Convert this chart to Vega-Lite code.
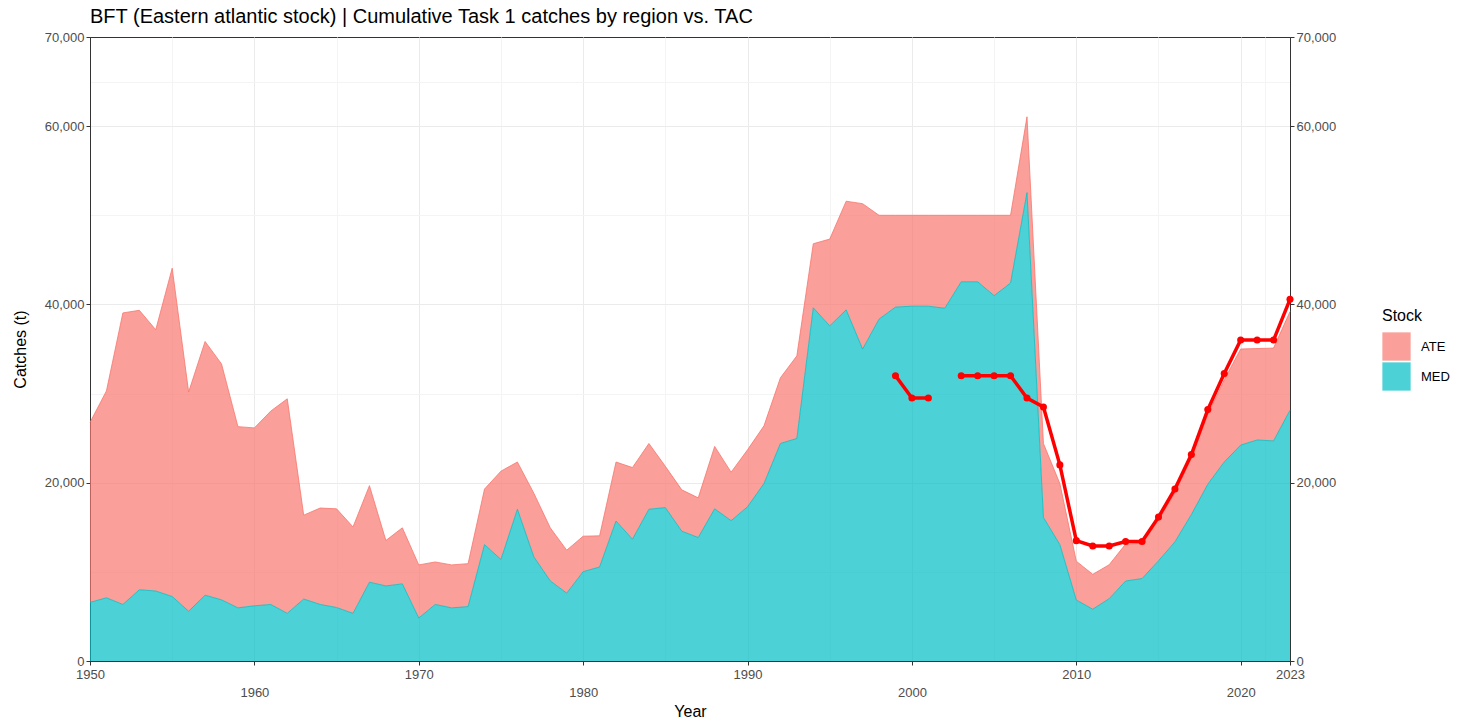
{
  "$schema": "https://vega.github.io/schema/vega-lite/v6.json",
  "width": 1200,
  "height": 624,
  "autosize": {"type": "none"},
  "padding": {"left": 90, "top": 37, "right": 167, "bottom": 64},
  "view": {"stroke": "#333333", "strokeWidth": 1},
  "title": {"text": "BFT (Eastern atlantic stock) | Cumulative Task 1 catches by region vs. TAC", "anchor": "start", "frame": "group", "fontSize": 20, "fontWeight": "normal", "color": "#000000", "font": "Liberation Sans", "offset": 4},
  "datasets": {
    "tac": [
      {"Year": 1999, "TAC": 32000}, {"Year": 2000, "TAC": 29500}, {"Year": 2001, "TAC": 29500}, {"Year": 2002, "TAC": null},
      {"Year": 2003, "TAC": 32000}, {"Year": 2004, "TAC": 32000}, {"Year": 2005, "TAC": 32000}, {"Year": 2006, "TAC": 32000},
      {"Year": 2007, "TAC": 29500}, {"Year": 2008, "TAC": 28500}, {"Year": 2009, "TAC": 22000}, {"Year": 2010, "TAC": 13500},
      {"Year": 2011, "TAC": 12900}, {"Year": 2012, "TAC": 12900}, {"Year": 2013, "TAC": 13400}, {"Year": 2014, "TAC": 13400},
      {"Year": 2015, "TAC": 16142}, {"Year": 2016, "TAC": 19296}, {"Year": 2017, "TAC": 23155}, {"Year": 2018, "TAC": 28200},
      {"Year": 2019, "TAC": 32240}, {"Year": 2020, "TAC": 36000}, {"Year": 2021, "TAC": 36000}, {"Year": 2022, "TAC": 36000},
      {"Year": 2023, "TAC": 40570}
    ],
    "catches": [
      {"Year": 1950, "Stock": "MED", "Catch": 6570}, {"Year": 1950, "Stock": "ATE", "Catch": 20190},
      {"Year": 1951, "Stock": "MED", "Catch": 7090}, {"Year": 1951, "Stock": "ATE", "Catch": 23210},
      {"Year": 1952, "Stock": "MED", "Catch": 6340}, {"Year": 1952, "Stock": "ATE", "Catch": 32710},
      {"Year": 1953, "Stock": "MED", "Catch": 7990}, {"Year": 1953, "Stock": "ATE", "Catch": 31350},
      {"Year": 1954, "Stock": "MED", "Catch": 7850}, {"Year": 1954, "Stock": "ATE", "Catch": 29310},
      {"Year": 1955, "Stock": "MED", "Catch": 7230}, {"Year": 1955, "Stock": "ATE", "Catch": 36840},
      {"Year": 1956, "Stock": "MED", "Catch": 5580}, {"Year": 1956, "Stock": "ATE", "Catch": 24590},
      {"Year": 1957, "Stock": "MED", "Catch": 7380}, {"Year": 1957, "Stock": "ATE", "Catch": 28460},
      {"Year": 1958, "Stock": "MED", "Catch": 6860}, {"Year": 1958, "Stock": "ATE", "Catch": 26470},
      {"Year": 1959, "Stock": "MED", "Catch": 5960}, {"Year": 1959, "Stock": "ATE", "Catch": 20330},
      {"Year": 1960, "Stock": "MED", "Catch": 6190}, {"Year": 1960, "Stock": "ATE", "Catch": 19960},
      {"Year": 1961, "Stock": "MED", "Catch": 6340}, {"Year": 1961, "Stock": "ATE", "Catch": 21700},
      {"Year": 1962, "Stock": "MED", "Catch": 5340}, {"Year": 1962, "Stock": "ATE", "Catch": 24070},
      {"Year": 1963, "Stock": "MED", "Catch": 6950}, {"Year": 1963, "Stock": "ATE", "Catch": 9410},
      {"Year": 1964, "Stock": "MED", "Catch": 6340}, {"Year": 1964, "Stock": "ATE", "Catch": 10820},
      {"Year": 1965, "Stock": "MED", "Catch": 6000}, {"Year": 1965, "Stock": "ATE", "Catch": 11070},
      {"Year": 1966, "Stock": "MED", "Catch": 5340}, {"Year": 1966, "Stock": "ATE", "Catch": 9700},
      {"Year": 1967, "Stock": "MED", "Catch": 8840}, {"Year": 1967, "Stock": "ATE", "Catch": 10830},
      {"Year": 1968, "Stock": "MED", "Catch": 8420}, {"Year": 1968, "Stock": "ATE", "Catch": 5100},
      {"Year": 1969, "Stock": "MED", "Catch": 8650}, {"Year": 1969, "Stock": "ATE", "Catch": 6290},
      {"Year": 1970, "Stock": "MED", "Catch": 4820}, {"Year": 1970, "Stock": "ATE", "Catch": 5960},
      {"Year": 1971, "Stock": "MED", "Catch": 6340}, {"Year": 1971, "Stock": "ATE", "Catch": 4770},
      {"Year": 1972, "Stock": "MED", "Catch": 5960}, {"Year": 1972, "Stock": "ATE", "Catch": 4820},
      {"Year": 1973, "Stock": "MED", "Catch": 6100}, {"Year": 1973, "Stock": "ATE", "Catch": 4820},
      {"Year": 1974, "Stock": "MED", "Catch": 13050}, {"Year": 1974, "Stock": "ATE", "Catch": 6240},
      {"Year": 1975, "Stock": "MED", "Catch": 11390}, {"Year": 1975, "Stock": "ATE", "Catch": 9910},
      {"Year": 1976, "Stock": "MED", "Catch": 17020}, {"Year": 1976, "Stock": "ATE", "Catch": 5300},
      {"Year": 1977, "Stock": "MED", "Catch": 11680}, {"Year": 1977, "Stock": "ATE", "Catch": 7140},
      {"Year": 1978, "Stock": "MED", "Catch": 8980}, {"Year": 1978, "Stock": "ATE", "Catch": 5960},
      {"Year": 1979, "Stock": "MED", "Catch": 7610}, {"Year": 1979, "Stock": "ATE", "Catch": 4820},
      {"Year": 1980, "Stock": "MED", "Catch": 10020}, {"Year": 1980, "Stock": "ATE", "Catch": 3980},
      {"Year": 1981, "Stock": "MED", "Catch": 10540}, {"Year": 1981, "Stock": "ATE", "Catch": 3500},
      {"Year": 1982, "Stock": "MED", "Catch": 15700}, {"Year": 1982, "Stock": "ATE", "Catch": 6620},
      {"Year": 1983, "Stock": "MED", "Catch": 13660}, {"Year": 1983, "Stock": "ATE", "Catch": 8040},
      {"Year": 1984, "Stock": "MED", "Catch": 17020}, {"Year": 1984, "Stock": "ATE", "Catch": 7380},
      {"Year": 1985, "Stock": "MED", "Catch": 17210}, {"Year": 1985, "Stock": "ATE", "Catch": 4630},
      {"Year": 1986, "Stock": "MED", "Catch": 14560}, {"Year": 1986, "Stock": "ATE", "Catch": 4640},
      {"Year": 1987, "Stock": "MED", "Catch": 13850}, {"Year": 1987, "Stock": "ATE", "Catch": 4450},
      {"Year": 1988, "Stock": "MED", "Catch": 17070}, {"Year": 1988, "Stock": "ATE", "Catch": 7000},
      {"Year": 1989, "Stock": "MED", "Catch": 15740}, {"Year": 1989, "Stock": "ATE", "Catch": 5440},
      {"Year": 1990, "Stock": "MED", "Catch": 17300}, {"Year": 1990, "Stock": "ATE", "Catch": 6390},
      {"Year": 1991, "Stock": "MED", "Catch": 19910}, {"Year": 1991, "Stock": "ATE", "Catch": 6470},
      {"Year": 1992, "Stock": "MED", "Catch": 24400}, {"Year": 1992, "Stock": "ATE", "Catch": 7370},
      {"Year": 1993, "Stock": "MED", "Catch": 24960}, {"Year": 1993, "Stock": "ATE", "Catch": 9270},
      {"Year": 1994, "Stock": "MED", "Catch": 39620}, {"Year": 1994, "Stock": "ATE", "Catch": 7190},
      {"Year": 1995, "Stock": "MED", "Catch": 37590}, {"Year": 1995, "Stock": "ATE", "Catch": 9740},
      {"Year": 1996, "Stock": "MED", "Catch": 39390}, {"Year": 1996, "Stock": "ATE", "Catch": 12190},
      {"Year": 1997, "Stock": "MED", "Catch": 34990}, {"Year": 1997, "Stock": "ATE", "Catch": 16310},
      {"Year": 1998, "Stock": "MED", "Catch": 38350}, {"Year": 1998, "Stock": "ATE", "Catch": 11650},
      {"Year": 1999, "Stock": "MED", "Catch": 39700}, {"Year": 1999, "Stock": "ATE", "Catch": 10300},
      {"Year": 2000, "Stock": "MED", "Catch": 39800}, {"Year": 2000, "Stock": "ATE", "Catch": 10200},
      {"Year": 2001, "Stock": "MED", "Catch": 39800}, {"Year": 2001, "Stock": "ATE", "Catch": 10200},
      {"Year": 2002, "Stock": "MED", "Catch": 39570}, {"Year": 2002, "Stock": "ATE", "Catch": 10430},
      {"Year": 2003, "Stock": "MED", "Catch": 42540}, {"Year": 2003, "Stock": "ATE", "Catch": 7460},
      {"Year": 2004, "Stock": "MED", "Catch": 42540}, {"Year": 2004, "Stock": "ATE", "Catch": 7460},
      {"Year": 2005, "Stock": "MED", "Catch": 40980}, {"Year": 2005, "Stock": "ATE", "Catch": 9020},
      {"Year": 2006, "Stock": "MED", "Catch": 42400}, {"Year": 2006, "Stock": "ATE", "Catch": 7600},
      {"Year": 2007, "Stock": "MED", "Catch": 52540}, {"Year": 2007, "Stock": "ATE", "Catch": 8510},
      {"Year": 2008, "Stock": "MED", "Catch": 16100}, {"Year": 2008, "Stock": "ATE", "Catch": 8300},
      {"Year": 2009, "Stock": "MED", "Catch": 13050}, {"Year": 2009, "Stock": "ATE", "Catch": 6850},
      {"Year": 2010, "Stock": "MED", "Catch": 6840}, {"Year": 2010, "Stock": "ATE", "Catch": 4360},
      {"Year": 2011, "Stock": "MED", "Catch": 5810}, {"Year": 2011, "Stock": "ATE", "Catch": 3910},
      {"Year": 2012, "Stock": "MED", "Catch": 6990}, {"Year": 2012, "Stock": "ATE", "Catch": 3810},
      {"Year": 2013, "Stock": "MED", "Catch": 8970}, {"Year": 2013, "Stock": "ATE", "Catch": 4150},
      {"Year": 2014, "Stock": "MED", "Catch": 9250}, {"Year": 2014, "Stock": "ATE", "Catch": 3950},
      {"Year": 2015, "Stock": "MED", "Catch": 11240}, {"Year": 2015, "Stock": "ATE", "Catch": 4560},
      {"Year": 2016, "Stock": "MED", "Catch": 13360}, {"Year": 2016, "Stock": "ATE", "Catch": 5490},
      {"Year": 2017, "Stock": "MED", "Catch": 16430}, {"Year": 2017, "Stock": "ATE", "Catch": 6320},
      {"Year": 2018, "Stock": "MED", "Catch": 19830}, {"Year": 2018, "Stock": "ATE", "Catch": 7820},
      {"Year": 2019, "Stock": "MED", "Catch": 22330}, {"Year": 2019, "Stock": "ATE", "Catch": 9220},
      {"Year": 2020, "Stock": "MED", "Catch": 24220}, {"Year": 2020, "Stock": "ATE", "Catch": 10780},
      {"Year": 2021, "Stock": "MED", "Catch": 24790}, {"Year": 2021, "Stock": "ATE", "Catch": 10260},
      {"Year": 2022, "Stock": "MED", "Catch": 24690}, {"Year": 2022, "Stock": "ATE", "Catch": 10410},
      {"Year": 2023, "Stock": "MED", "Catch": 28130}, {"Year": 2023, "Stock": "ATE", "Catch": 11070}
    ]
  },
  "layer": [
    {
      "data": {"name": "catches"},
      "mark": {"type": "area", "fillOpacity": 0.7, "line": {"strokeWidth": 0.8}},
      "encoding": {
        "x": {
          "field": "Year", "type": "quantitative",
          "scale": {"domain": [1950, 2023], "nice": false, "zero": false},
          "axis": {
            "title": "Year",
            "values": [1950, 1955, 1960, 1965, 1970, 1975, 1980, 1985, 1990, 1995, 2000, 2005, 2010, 2015, 2020, 2021.5, 2023],
            "format": "d",
            "labelExpr": "indexof([1960,1980,2000,2020], datum.value) >= 0 ? ['', datum.label] : (indexof([1950,1970,1990,2010,2023], datum.value) >= 0 ? datum.label : '')",
            "labelLineHeight": 18,
            "labelOverlap": false,
            "labelFlush": false,
            "labelPadding": 3,
            "titlePadding": 4,
            "domain": true,
            "domainColor": "#333333",
            "gridColor": {"condition": {"test": "indexof([1955,1965,1975,1985,1995,2005,2015,2021.5], datum.value) >= 0", "value": "#F4F4F4"}, "value": "#EBEBEB"},
            "gridOpacity": {"condition": {"test": "datum.value == 2023 || datum.value == 1950", "value": 0}, "value": 1},
            "tickOpacity": {"condition": {"test": "indexof([1955,1965,1975,1985,1995,2005,2015,2021.5], datum.value) >= 0", "value": 0}, "value": 1}
          }
        },
        "y": {
          "field": "Catch", "type": "quantitative", "stack": "zero",
          "scale": {"domain": [0, 70000], "nice": false},
          "axis": {
            "title": "Catches (t)",
            "values": [0, 10000, 20000, 30000, 40000, 50000, 60000, 65000, 70000],
            "format": ",.0f",
            "labelExpr": "indexof([10000,30000,50000,65000], datum.value) >= 0 ? '' : datum.label",
            "titlePadding": 16,
            "domain": true,
            "domainColor": "#333333",
            "gridColor": {"condition": {"test": "indexof([10000,30000,50000,65000], datum.value) >= 0", "value": "#F4F4F4"}, "value": "#EBEBEB"},
            "gridOpacity": {"condition": {"test": "datum.value == 70000 || datum.value == 0", "value": 0}, "value": 1},
            "tickOpacity": {"condition": {"test": "indexof([10000,30000,50000,65000], datum.value) >= 0", "value": 0}, "value": 1}
          }
        },
        "color": {
          "field": "Stock", "type": "nominal",
          "scale": {"domain": ["ATE", "MED"], "range": ["#F8766D", "#00BFC4"]},
          "legend": {
            "orient": "none", "legendX": 1292, "legendY": 271,
            "title": "Stock", "titleFontSize": 16, "titleFontWeight": "normal", "titleColor": "#000000", "titlePadding": 8,
            "labelFontSize": 13, "labelColor": "#000000", "labelOffset": 10,
            "symbolType": "square", "symbolSize": 800, "symbolOpacity": 0.7, "symbolStrokeWidth": 0, "rowPadding": 1
          }
        },
        "order": {"field": "Stock", "sort": "descending"}
      }
    },
    {
      "data": {"name": "tac"},
      "mark": {"type": "line", "color": "#FF0000", "strokeWidth": 3.5, "invalid": "break-paths-show-domains", "point": {"filled": true, "size": 50, "color": "#FF0000"}},
      "encoding": {
        "x": {"field": "Year", "type": "quantitative"},
        "y": {
          "field": "TAC", "type": "quantitative",
          "axis": {
            "orient": "right", "title": null, "grid": false,
            "values": [0, 20000, 40000, 60000, 70000],
            "format": ",.0f",
            "domain": true,
            "domainColor": "#333333"
          }
        }
      }
    }
  ],
  "resolve": {"axis": {"y": "independent"}},
  "config": {
    "font": "Liberation Sans",
    "view": {"stroke": "#333333", "strokeWidth": 1},
    "axis": {
      "labelColor": "#4D4D4D", "labelFontSize": 13, "labelFont": "Liberation Sans",
      "titleFont": "Liberation Sans", "titleFontSize": 16, "titleFontWeight": "normal", "titleColor": "#000000",
      "tickColor": "#333333", "tickSize": 4, "domain": false
    },
    "legend": {"labelFont": "Liberation Sans", "titleFont": "Liberation Sans"}
  }
}
